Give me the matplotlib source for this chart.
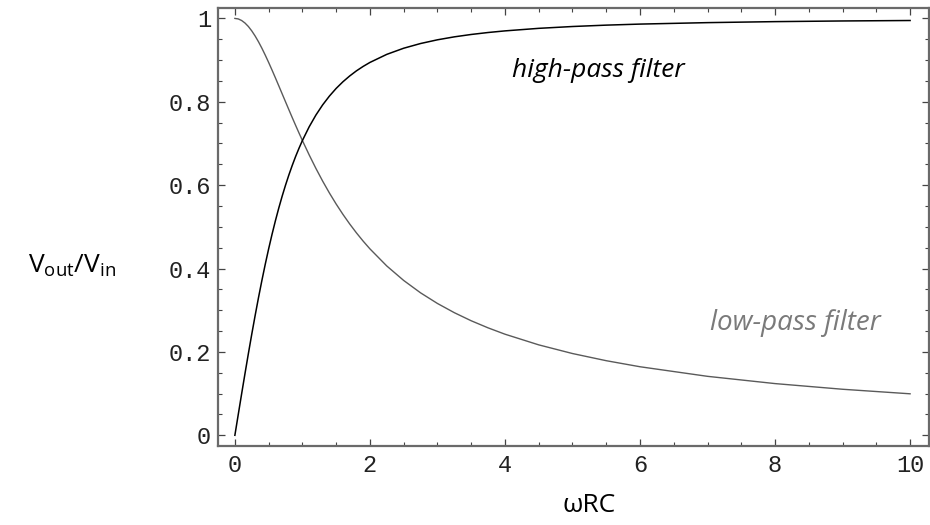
import matplotlib
matplotlib.use("Agg")
import matplotlib.pyplot as plt
from matplotlib.ticker import MultipleLocator

# values
x_vals = [0, 0.05, 0.1, 0.15, 0.2, 0.25, 0.3, 0.35, 0.4, 0.45, 0.5, 0.55, 0.6, 0.65,
          0.7, 0.75, 0.8, 0.85, 0.9, 0.95, 1.0, 1.1, 1.2, 1.3, 1.4, 1.5, 1.6, 1.7,
          1.8, 1.9, 2.0, 2.25, 2.5, 2.75, 3.0, 3.25, 3.5, 3.75, 4.0, 4.5, 5, 5.5,
          6, 7, 8, 9, 10]
low_pass = [1.0, 0.9988, 0.9950, 0.9889, 0.9806, 0.9701, 0.9578, 0.9439, 0.9285,
            0.9119, 0.8944, 0.8762, 0.8575, 0.8384, 0.8192, 0.8000, 0.7809, 0.7619,
            0.7433, 0.7250, 0.7071, 0.6727, 0.6402, 0.6097, 0.5812, 0.5547, 0.5300,
            0.5070, 0.4856, 0.4657, 0.4472, 0.4061, 0.3714, 0.3417, 0.3162, 0.2941,
            0.2747, 0.2577, 0.2425, 0.2169, 0.1961, 0.1789, 0.1644, 0.1414, 0.1240,
            0.1104, 0.0995]
high_pass = [0.0, 0.0499, 0.0995, 0.1483, 0.1961, 0.2425, 0.2873, 0.3304, 0.3714,
             0.4104, 0.4472, 0.4819, 0.5145, 0.5450, 0.5735, 0.6000, 0.6247, 0.6476,
             0.6690, 0.6887, 0.7071, 0.7399, 0.7682, 0.7926, 0.8137, 0.8321, 0.8480,
             0.8619, 0.8742, 0.8849, 0.8944, 0.9138, 0.9285, 0.9398, 0.9487, 0.9558,
             0.9615, 0.9662, 0.9701, 0.9762, 0.9806, 0.9839, 0.9864, 0.9899, 0.9923,
             0.9939, 0.9950]
x_ticks = [0, 2, 4, 6, 8, 10]
y_ticks = [0, 0.2, 0.4, 0.6, 0.8, 1]
y_tick_labels = ["0", "0.2", "0.4", "0.6", "0.8", "1"]

fig = plt.figure(figsize=(9.3, 5.25), dpi=100)
ax = fig.add_axes([218 / 930, 1 - 445.7 / 525, 711 / 930, 437.7 / 525])

ax.plot(x_vals, low_pass, color="#5a5a5a", lw=1.0, solid_joinstyle="round")
ax.plot(x_vals, high_pass, color="black", lw=1.1, solid_joinstyle="round")

ax.set_xlim(-0.25, 10.28)
ax.set_ylim(-0.025, 1.025)
ax.set_xticks(x_ticks)
ax.set_xticklabels([str(t) for t in x_ticks])
ax.set_yticks(y_ticks)
ax.set_yticklabels(y_tick_labels)
ax.xaxis.set_minor_locator(MultipleLocator(0.5))
ax.yaxis.set_minor_locator(MultipleLocator(0.05))

ax.tick_params(which="both", direction="in", top=True, right=True,
               labeltop=False, labelright=False, color="#444444")
ax.tick_params(which="major", length=5, width=0.9)
ax.tick_params(which="minor", length=3, width=0.8)
ax.tick_params(axis="x", pad=6)
ax.tick_params(axis="y", pad=5)
for lab in ax.get_xticklabels() + ax.get_yticklabels():
    lab.set_family("Liberation Mono")
    lab.set_fontsize(17)
    lab.set_color("#222222")
for sp in ax.spines.values():
    sp.set_color("#6a6a6a")
    sp.set_linewidth(1.6)

fig.text(589 / 930, 1 - 505 / 525, "ωRC", family="Open Sans", fontsize=19,
         ha="center", va="center")
fig.text(72 / 930, 1 - 266 / 525, r"V$_{\mathregular{out}}$/V$_{\mathregular{in}}$",
         family="Open Sans", fontsize=19, ha="center", va="center")

ax.text(5.38, 0.875, "high-pass filter", family="Open Sans", style="italic",
        fontsize=19, ha="center", va="center", color="black")
ax.text(8.3, 0.27, "low-pass filter", family="Open Sans", style="italic",
        fontsize=20, ha="center", va="center", color="#7a7a7a")

fig.savefig("out.png", dpi=100)
